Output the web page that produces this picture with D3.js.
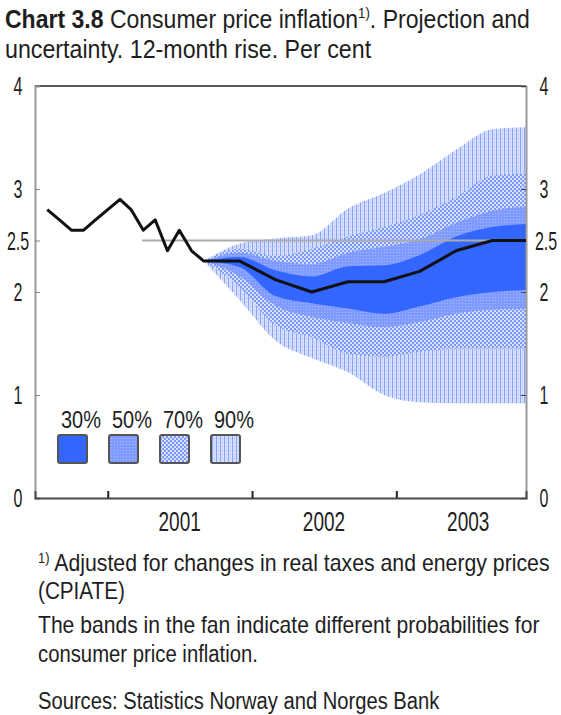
<!DOCTYPE html>
<meta charset="utf-8">
<script src="https://d3js.org/d3.v7.min.js"></script>
<style>
    body { margin: 0; background: #fff; }
    text { font-family: "Liberation Sans", Arial, sans-serif; fill: #1e1e1e; }
</style>
<div id="chart"></div>
<script>
    // ---- data ----
    var histDates = ["2000-08-01", "2000-09-01", "2000-10-01", "2000-11-01", "2000-12-01", "2001-01-01", "2001-02-01",
        "2001-03-01", "2001-04-01", "2001-05-01", "2001-06-01", "2001-07-01", "2001-08-01", "2001-09-01"];
    var histValues = [2.8, 2.7, 2.6, 2.6, 2.7, 2.8, 2.9, 2.8, 2.6, 2.7, 2.4, 2.6, 2.4, 2.3];

    var projDates = ["2001-09-01", "2001-12-01", "2002-03-01", "2002-06-01", "2002-09-01", "2002-12-01",
        "2003-03-01", "2003-06-01", "2003-09-01", "2003-11-25"];
    var projValues = [2.3, 2.3, 2.12, 2.0, 2.1, 2.1, 2.2, 2.4, 2.5, 2.5];

    var lower90 = [2.3, 1.92, 1.53, 1.36, 1.22, 1.00, 0.93, 0.92, 0.92, 0.92];
    var lower70 = [2.3, 2.05, 1.68, 1.56, 1.40, 1.37, 1.42, 1.45, 1.45, 1.45];
    var lower50 = [2.3, 2.15, 1.87, 1.76, 1.70, 1.66, 1.71, 1.79, 1.83, 1.84];
    var lower30 = [2.3, 2.24, 1.96, 1.89, 1.84, 1.79, 1.86, 1.95, 2.00, 2.02];
    var upper30 = [2.3, 2.34, 2.21, 2.15, 2.25, 2.26, 2.36, 2.54, 2.63, 2.66];
    var upper50 = [2.3, 2.38, 2.30, 2.27, 2.38, 2.44, 2.51, 2.67, 2.79, 2.83];
    var upper70 = [2.3, 2.42, 2.35, 2.42, 2.54, 2.63, 2.75, 2.92, 3.13, 3.15];
    var upper90 = [2.3, 2.47, 2.52, 2.55, 2.81, 2.96, 3.14, 3.38, 3.58, 3.60];

    var bandNames = ["30%", "50%", "70%", "90%"];
    var targetValue = 2.5;
    var targetStart = "2001-03-29";
    var yTicks = [0, 1, 2, 2.5, 3, 4];
    var yearTicks = ["2001-01-01", "2002-01-01", "2003-01-01"];
    var yearLabels = ["2001", "2002", "2003"];
    var yearMids = ["2001-07-02", "2002-07-02", "2003-07-02"];

    // ---- layout ----
    var W = 561, H = 715;
    var plot = { left: 35, right: 526, top: 86, bottom: 498 };
    var parse = d3.timeParse("%Y-%m-%d");

    var svg = d3.select("#chart").append("svg")
        .attr("width", W)
        .attr("height", H);

    var x = d3.scaleTime()
        .domain([parse("2000-07-01"), parse("2003-11-25")])
        .range([plot.left, plot.right]);

    var y = d3.scaleLinear()
        .domain([0, 4])
        .range([plot.bottom, plot.top]);

    // squeeze text horizontally (the original type is tall and narrow)
    function squeeze(t, px, py, f) {
        t.attr("transform", "translate(" + px + "," + py + ") scale(" + f + ",1)");
    }
    function fitTo(t, px, py, w) {
        var bw = t.node().getBBox().width;
        squeeze(t, px, py, w / bw);
    }

    // patterns for the fan
    var defs = svg.append("defs");
    var p50 = defs.append("pattern").attr("id", "p50").attr("patternUnits", "userSpaceOnUse")
        .attr("width", 3).attr("height", 3);
    p50.append("rect").attr("width", 3).attr("height", 3).attr("fill", "#7f9bff");
    p50.append("rect").attr("width", 1).attr("height", 1).attr("fill", "#a8bbff");

    var p70 = defs.append("pattern").attr("id", "p70").attr("patternUnits", "userSpaceOnUse")
        .attr("width", 4).attr("height", 4);
    p70.append("rect").attr("width", 4).attr("height", 4).attr("fill", "#7c98ff");
    p70.append("circle").attr("cx", 1).attr("cy", 1).attr("r", 1.1).attr("fill", "#e4eaff");
    p70.append("circle").attr("cx", 3).attr("cy", 3).attr("r", 1.1).attr("fill", "#e4eaff");

    var p90 = defs.append("pattern").attr("id", "p90").attr("patternUnits", "userSpaceOnUse")
        .attr("width", 4).attr("height", 4);
    p90.append("rect").attr("width", 4).attr("height", 4).attr("fill", "#d6dfff");
    p90.append("rect").attr("width", 1).attr("height", 4).attr("fill", "#89a3ff");
    p90.append("rect").attr("x", 2).attr("y", 2).attr("width", 1).attr("height", 1).attr("fill", "#a9bcff");

    var bandFills = ["#3366ff", "url(#p50)", "url(#p70)", "url(#p90)"];

    // ---- fan ----
    var fanData = projDates.map(function (d, i) {
        return {
            date: parse(d),
            lo: [lower30[i], lower50[i], lower70[i], lower90[i]],
            hi: [upper30[i], upper50[i], upper70[i], upper90[i]]
        };
    });

    [3, 2, 1, 0].forEach(function (k) {
        var area = d3.area()
            .curve(d3.curveMonotoneX)
            .x(function (d) { return x(d.date); })
            .y0(function (d) { return y(d.lo[k]); })
            .y1(function (d) { return y(d.hi[k]); });
        svg.append("path")
            .datum(fanData)
            .attr("d", area)
            .attr("fill", bandFills[k]);
    });

    // inflation target line
    svg.append("line")
        .attr("x1", x(parse(targetStart)))
        .attr("x2", plot.right)
        .attr("y1", y(targetValue))
        .attr("y2", y(targetValue))
        .attr("stroke", "#aaaaaa")
        .attr("stroke-width", 2);

    // ---- frame & axes ----
    svg.append("line").attr("x1", plot.left).attr("x2", plot.right)
        .attr("y1", plot.top).attr("y2", plot.top)
        .attr("stroke", "#5a5a5a").attr("stroke-width", 2);

    var yLeft = svg.append("g")
        .attr("transform", "translate(" + plot.left + ",0)")
        .call(d3.axisLeft(y).tickValues(yTicks).tickSize(-5).tickFormat(""));
    yLeft.select(".domain").attr("stroke", "#9a9a9a").attr("stroke-width", 2);
    yLeft.selectAll(".tick line").attr("stroke", "#888");

    var yRight = svg.append("g")
        .attr("transform", "translate(" + plot.right + ",0)")
        .call(d3.axisRight(y).tickValues(yTicks).tickSize(-5).tickFormat(""));
    yRight.select(".domain").attr("stroke", "#9a9a9a").attr("stroke-width", 2);
    yRight.selectAll(".tick line").attr("stroke", "#444");

    var xAxis = svg.append("g")
        .attr("transform", "translate(0," + plot.bottom + ")")
        .call(d3.axisBottom(x).tickValues(yearTicks.map(parse)).tickSize(-7).tickFormat(""));
    xAxis.select(".domain").attr("stroke", "#4a4a4a").attr("stroke-width", 2);
    xAxis.selectAll(".tick line").attr("stroke", "#222").attr("stroke-width", 2);

    // tick labels
    yTicks.forEach(function (v) {
        var tl = svg.append("text").attr("font-size", 25).attr("text-anchor", "middle").text(v);
        squeeze(tl, 18, y(v) + 9, 0.64);
        var tr = svg.append("text").attr("font-size", 25).attr("text-anchor", "middle").text(v);
        squeeze(tr, v === 2.5 ? 546 : 544, y(v) + 9, 0.64);
    });
    yearLabels.forEach(function (lab, i) {
        var t = svg.append("text").attr("font-size", 28).attr("text-anchor", "middle").text(lab);
        squeeze(t, x(parse(yearMids[i])), 531, 0.68);
    });

    // ---- CPI line (history + projection) ----
    var lineData = histDates.map(function (d, i) { return { date: parse(d), v: histValues[i] }; })
        .concat(projDates.slice(1).map(function (d, i) { return { date: parse(d), v: projValues[i + 1] }; }));

    svg.append("path")
        .datum(lineData)
        .attr("d", d3.line()
            .x(function (d) { return x(d.date); })
            .y(function (d) { return y(d.v); }))
        .attr("fill", "none")
        .attr("stroke", "#111")
        .attr("stroke-width", 3)
        .attr("stroke-linejoin", "round");

    // ---- legend ----
    bandNames.forEach(function (name, i) {
        var lx = 58 + i * 51;
        svg.append("rect")
            .attr("x", lx).attr("y", 435)
            .attr("width", 29).attr("height", 28)
            .attr("rx", 2)
            .attr("fill", bandFills[i])
            .attr("stroke", "#555")
            .attr("stroke-width", 2);
        var t = svg.append("text").attr("font-size", 23).text(name);
        fitTo(t, lx + 3, 428, 40);
    });

    // ---- title ----
    var t1 = svg.append("text").attr("font-size", 26);
    t1.append("tspan").attr("font-weight", "bold").text("Chart 3.8");
    t1.append("tspan").text(" Consumer price inflation");
    t1.append("tspan").attr("font-size", 15).attr("dy", -10).text("1)");
    t1.append("tspan").attr("dy", 10).text(". Projection and");
    fitTo(t1, 5, 28, 525);

    var t2 = svg.append("text").attr("font-size", 26).text("uncertainty. 12-month rise. Per cent");
    fitTo(t2, 5, 58, 367);

    // ---- notes ----
    var n1 = svg.append("text").attr("font-size", 23);
    n1.append("tspan").attr("font-size", 14).attr("dy", -8).text("1)");
    n1.append("tspan").attr("dy", 8).text(" Adjusted for changes in real taxes and energy prices");
    fitTo(n1, 38, 571, 512);

    var n2 = svg.append("text").attr("font-size", 23).text("(CPIATE)");
    fitTo(n2, 38, 599, 87);

    var n3 = svg.append("text").attr("font-size", 23).text("The bands in the fan indicate different probabilities for");
    fitTo(n3, 38, 633, 502);

    var n4 = svg.append("text").attr("font-size", 23).text("consumer price inflation.");
    fitTo(n4, 38, 662, 220);

    var n5 = svg.append("text").attr("font-size", 23).text("Sources: Statistics Norway and Norges Bank");
    fitTo(n5, 38, 709, 402);
</script>
